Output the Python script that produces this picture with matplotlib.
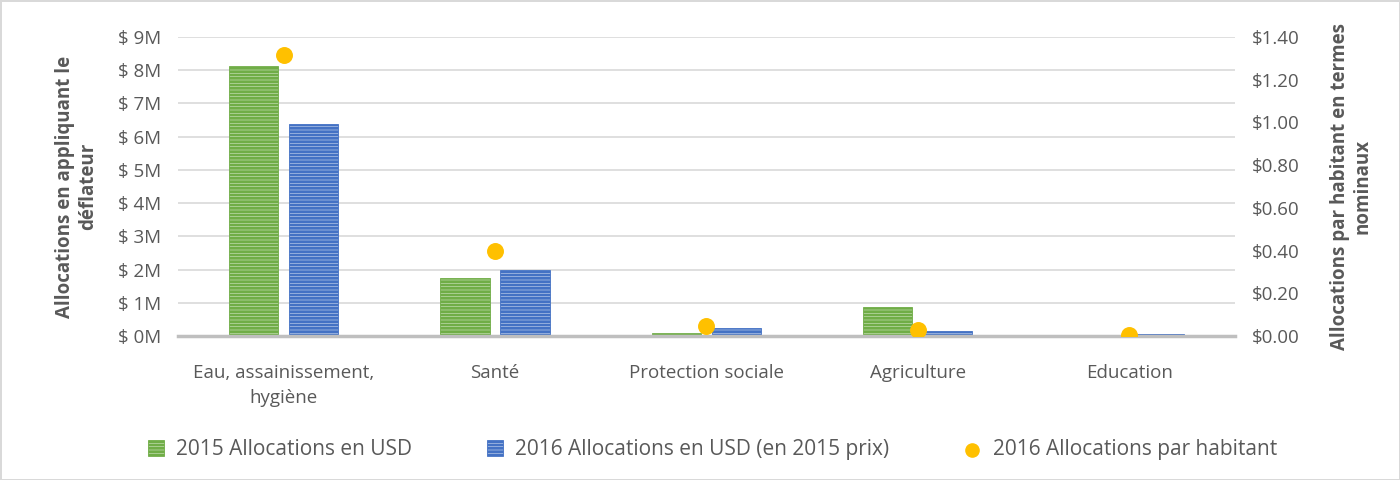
import matplotlib.pyplot as plt
import numpy as np
from matplotlib.ticker import FuncFormatter

plt.rcParams["font.family"] = ["Open Sans", "DejaVu Sans"]
plt.rcParams["hatch.linewidth"] = 2.0

categories = ["Eau, assainissement,\nhygiène", "Santé", "Protection sociale",
              "Agriculture", "Education"]
alloc_2015 = [8.13, 1.75, 0.09, 0.87, 0.02]       # millions USD
alloc_2016 = [6.39, 1.99, 0.24, 0.15, 0.05]       # millions USD (2015 prix)
per_capita_2016 = [1.315, 0.40, 0.047, 0.028, 0.005]

series_labels = ["2015 Allocations en USD",
                 "2016 Allocations en USD (en 2015 prix)",
                 "2016 Allocations par habitant"]

green = "#70ad47"
blue = "#4472c4"
gold = "#ffc000"
text_col = "#595959"

fig = plt.figure(figsize=(14, 4.8), dpi=100)
fig.patch.set_edgecolor("#d9d9d9")
fig.patch.set_linewidth(2)
ax = fig.add_axes([0.127, 0.30, 0.755, 0.623])
ax2 = ax.twinx()

x = np.arange(len(categories))
w = 0.233
off = 0.142
b1 = ax.bar(x - off, alloc_2015, w, facecolor="#d5e8c8", edgecolor=green,
            hatch="-----", linewidth=0.6, label=series_labels[0], zorder=2)
b2 = ax.bar(x + off, alloc_2016, w, facecolor="#d0dcf0", edgecolor=blue,
            hatch="-----", linewidth=0.6, label=series_labels[1], zorder=2)
pts = ax2.scatter(x, per_capita_2016, s=125, color=gold, zorder=4,
                  label=series_labels[2])

ax.set_xlim(-0.5, len(categories) - 0.5)
ax.set_ylim(0, 9)
ax.set_yticks(range(0, 10))
ax.yaxis.set_major_formatter(FuncFormatter(lambda v, p: f"$ {int(v)}M"))
ax2.set_ylim(0, 1.4)
ax2.set_yticks(np.arange(0, 1.41, 0.2))
ax2.yaxis.set_major_formatter(FuncFormatter(lambda v, p: f"${v:.2f}"))

ax.set_xticks(x)
ax.set_xticklabels(categories)
ax.grid(axis="y", color="#d9d9d9", linewidth=1.2, zorder=0)
ax.set_axisbelow(True)

for a in (ax, ax2):
    for s in a.spines.values():
        s.set_visible(False)
    a.tick_params(length=0, labelsize=13.5, colors=text_col)
ax.spines["bottom"].set_visible(True)
ax.spines["bottom"].set_color("#bfbfbf")
ax.spines["bottom"].set_linewidth(2.5)
ax.tick_params(axis="x", pad=20)
ax.tick_params(axis="y", pad=12)
ax2.tick_params(axis="y", pad=12)
for lbl in ax.get_xticklabels():
    lbl.set_linespacing(1.5)

ax.set_ylabel("Allocations en appliquant le\ndéflateur", fontsize=13.5,
              fontweight="bold", color=text_col, labelpad=14)
ax2.set_ylabel("Allocations par habitant en termes\nnominaux", fontsize=13.5,
               fontweight="bold", color=text_col, labelpad=22, rotation=90)

fig.legend(handles=[b1, b2, pts], loc="center", bbox_to_anchor=(0.509, 0.063),
           ncol=3, frameon=False, fontsize=15, labelcolor=text_col,
           handlelength=0.75, handleheight=0.75, columnspacing=3.6,
           handletextpad=0.6, markerscale=0.85)

fig.savefig("out.png", dpi=100, edgecolor=fig.get_edgecolor())
